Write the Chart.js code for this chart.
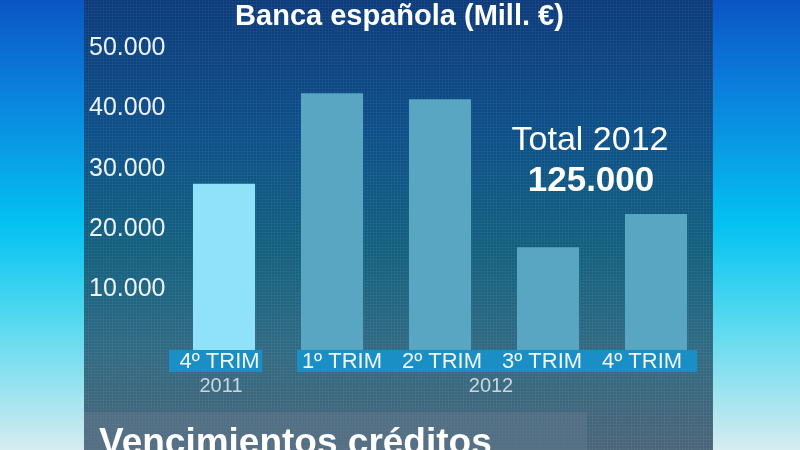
<!DOCTYPE html>
<html>
<head>
<meta charset="utf-8">
<script src="https://cdn.jsdelivr.net/npm/chart.js@4"></script>
<style>
html,body{margin:0;padding:0;background:#0a5ab0;}
#wrap{width:800px;height:450px;position:relative;}
</style>
</head>
<body>
<div id="wrap"><canvas id="c" width="800" height="450"></canvas></div>
<script>
const categories = ['4º TRIM', '1º TRIM', '2º TRIM', '3º TRIM', '4º TRIM'];
const years = ['2011', '2012', '2012', '2012', '2012'];
const values = [27500, 42500, 41500, 17000, 22500];
const barColors = ['#90e2fb', '#58a6c2', '#58a6c2', '#58a6c2', '#58a6c2'];
const yTicks = [10000, 20000, 30000, 40000, 50000];
const titleText = 'Banca española (Mill. €)';
const totalLabel = 'Total 2012';
const totalValue = '125.000';
const bannerText = 'Vencimientos créditos';

function fmt(v){ return String(v).replace(/\B(?=(\d{3})+(?!\d))/g, '.'); }

const PANEL_L = 84, PANEL_R = 713;
const FONT = '"Liberation Sans", Arial, sans-serif';

const bgPlugin = {
  id: 'bg',
  beforeDraw(chart){
    const ctx = chart.ctx, W = chart.width, H = chart.height;
    ctx.save();
    const g = ctx.createLinearGradient(0,0,0,H);
    g.addColorStop(0, '#0b55c4');
    g.addColorStop(0.2, '#0a80dc');
    g.addColorStop(0.5, '#04c2f2');
    g.addColorStop(0.7, '#50d8ef');
    g.addColorStop(1, '#d6ecf0');
    ctx.fillStyle = g; ctx.fillRect(0,0,W,H);
    const p = ctx.createLinearGradient(0,0,0,H);
    p.addColorStop(0, '#0b3a7a');
    p.addColorStop(0.3, '#0c4f88');
    p.addColorStop(0.55, '#12607f');
    p.addColorStop(0.78, '#2f6a83');
    p.addColorStop(1, '#4a6478');
    ctx.fillStyle = p; ctx.fillRect(PANEL_L,0,PANEL_R-PANEL_L,H);
    ctx.strokeStyle = 'rgba(255,255,255,0.045)';
    ctx.lineWidth = 1;
    ctx.beginPath();
    for (let x = PANEL_L + 1.5; x < PANEL_R; x += 3){ ctx.moveTo(x,0); ctx.lineTo(x,H); }
    for (let y = 1.5; y < H; y += 3){ ctx.moveTo(PANEL_L,y); ctx.lineTo(PANEL_R,y); }
    ctx.stroke();
    ctx.fillStyle = 'rgba(95,120,140,0.55)';
    ctx.fillRect(PANEL_L, 412, 587-PANEL_L, H-412);
    ctx.restore();
  },
  afterDraw(chart){
    const ctx = chart.ctx, x = chart.scales.x, y = chart.scales.y;
    const meta = chart.getDatasetMeta(0);
    const stripTop = y.getPixelForValue(0), stripH = 22;
    const bw = meta.data[0].width;
    ctx.save();
    const groups = [];
    years.forEach((yr,i)=>{
      const last = groups[groups.length-1];
      if (last && last.yr === yr) last.end = i; else groups.push({yr, start:i, end:i});
    });
    groups.forEach(gp=>{
      const l = meta.data[gp.start].x - bw/2 - (gp.start===0 ? 24 : 4);
      const r = meta.data[gp.end].x + bw/2 + (gp.end===categories.length-1 ? 10 : 7);
      gp.l = l; gp.r = r;
      ctx.fillStyle = '#1a8fc6';
      ctx.fillRect(l, stripTop, r-l, stripH);
      ctx.fillStyle = '#f2f6f8';
      ctx.font = '22px ' + FONT;
      ctx.textAlign = 'center'; ctx.textBaseline = 'middle';
      const n = gp.end - gp.start + 1, step = (r-l)/n;
      for (let k = 0; k < n; k++){
        ctx.fillText(categories[gp.start+k], l + (k+0.5)*step - (gp.start===0 ? -4 : 5), stripTop + stripH/2 + 1);
      }
    });
    ctx.fillStyle = '#c9d6de';
    ctx.font = '20px ' + FONT;
    ctx.textAlign = 'center'; ctx.textBaseline = 'middle';
    groups.forEach(gp=>{
      const cx = (meta.data[gp.start].x + meta.data[gp.end].x)/2;
      ctx.fillText(gp.yr, cx - 3, stripTop + stripH + 14);
    });
    ctx.fillStyle = '#ffffff';
    ctx.font = '34px ' + FONT;
    ctx.fillText(totalLabel, 590, 141);
    ctx.font = 'bold 35px ' + FONT;
    ctx.fillText(totalValue, 591, 181);
    ctx.textAlign = 'left'; ctx.textBaseline = 'alphabetic';
    ctx.font = 'bold 37px ' + FONT;
    ctx.fillText(bannerText, 99, 454);
    ctx.restore();
  }
};

new Chart(document.getElementById('c'), {
  type: 'bar',
  data: {
    labels: categories,
    datasets: [{
      data: values,
      backgroundColor: barColors,
      borderWidth: 0,
      barPercentage: 0.575,
      categoryPercentage: 1
    }]
  },
  options: {
    responsive: false,
    animation: false,
    devicePixelRatio: 1,
    layout: { padding: { left: 89, right: 90, top: 0, bottom: 100 } },
    plugins: {
      legend: { display: false },
      tooltip: { enabled: false },
      title: {
        display: true,
        text: titleText,
        color: '#ffffff',
        font: { family: FONT, size: 29, weight: 'bold' },
        padding: { top: 0, bottom: 13 }
      }
    },
    scales: {
      x: {
        display: true,
        grid: { display: false, drawTicks: false },
        border: { display: false },
        ticks: { display: false },
        afterFit(s){ s.height = 0; }
      },
      y: {
        min: 0, max: 50000,
        grid: { display: false, drawTicks: false },
        border: { display: false },
        afterBuildTicks(s){ s.ticks = yTicks.map(v=>({value:v})); },
        afterFit(s){ s.width = 81; },
        ticks: {
          color: '#eef3f7',
          font: { family: FONT, size: 25 },
          crossAlign: 'far',
          padding: 0,
          callback: (v)=> fmt(v)
        }
      }
    }
  },
  plugins: [bgPlugin]
});
</script>
</body>
</html>
